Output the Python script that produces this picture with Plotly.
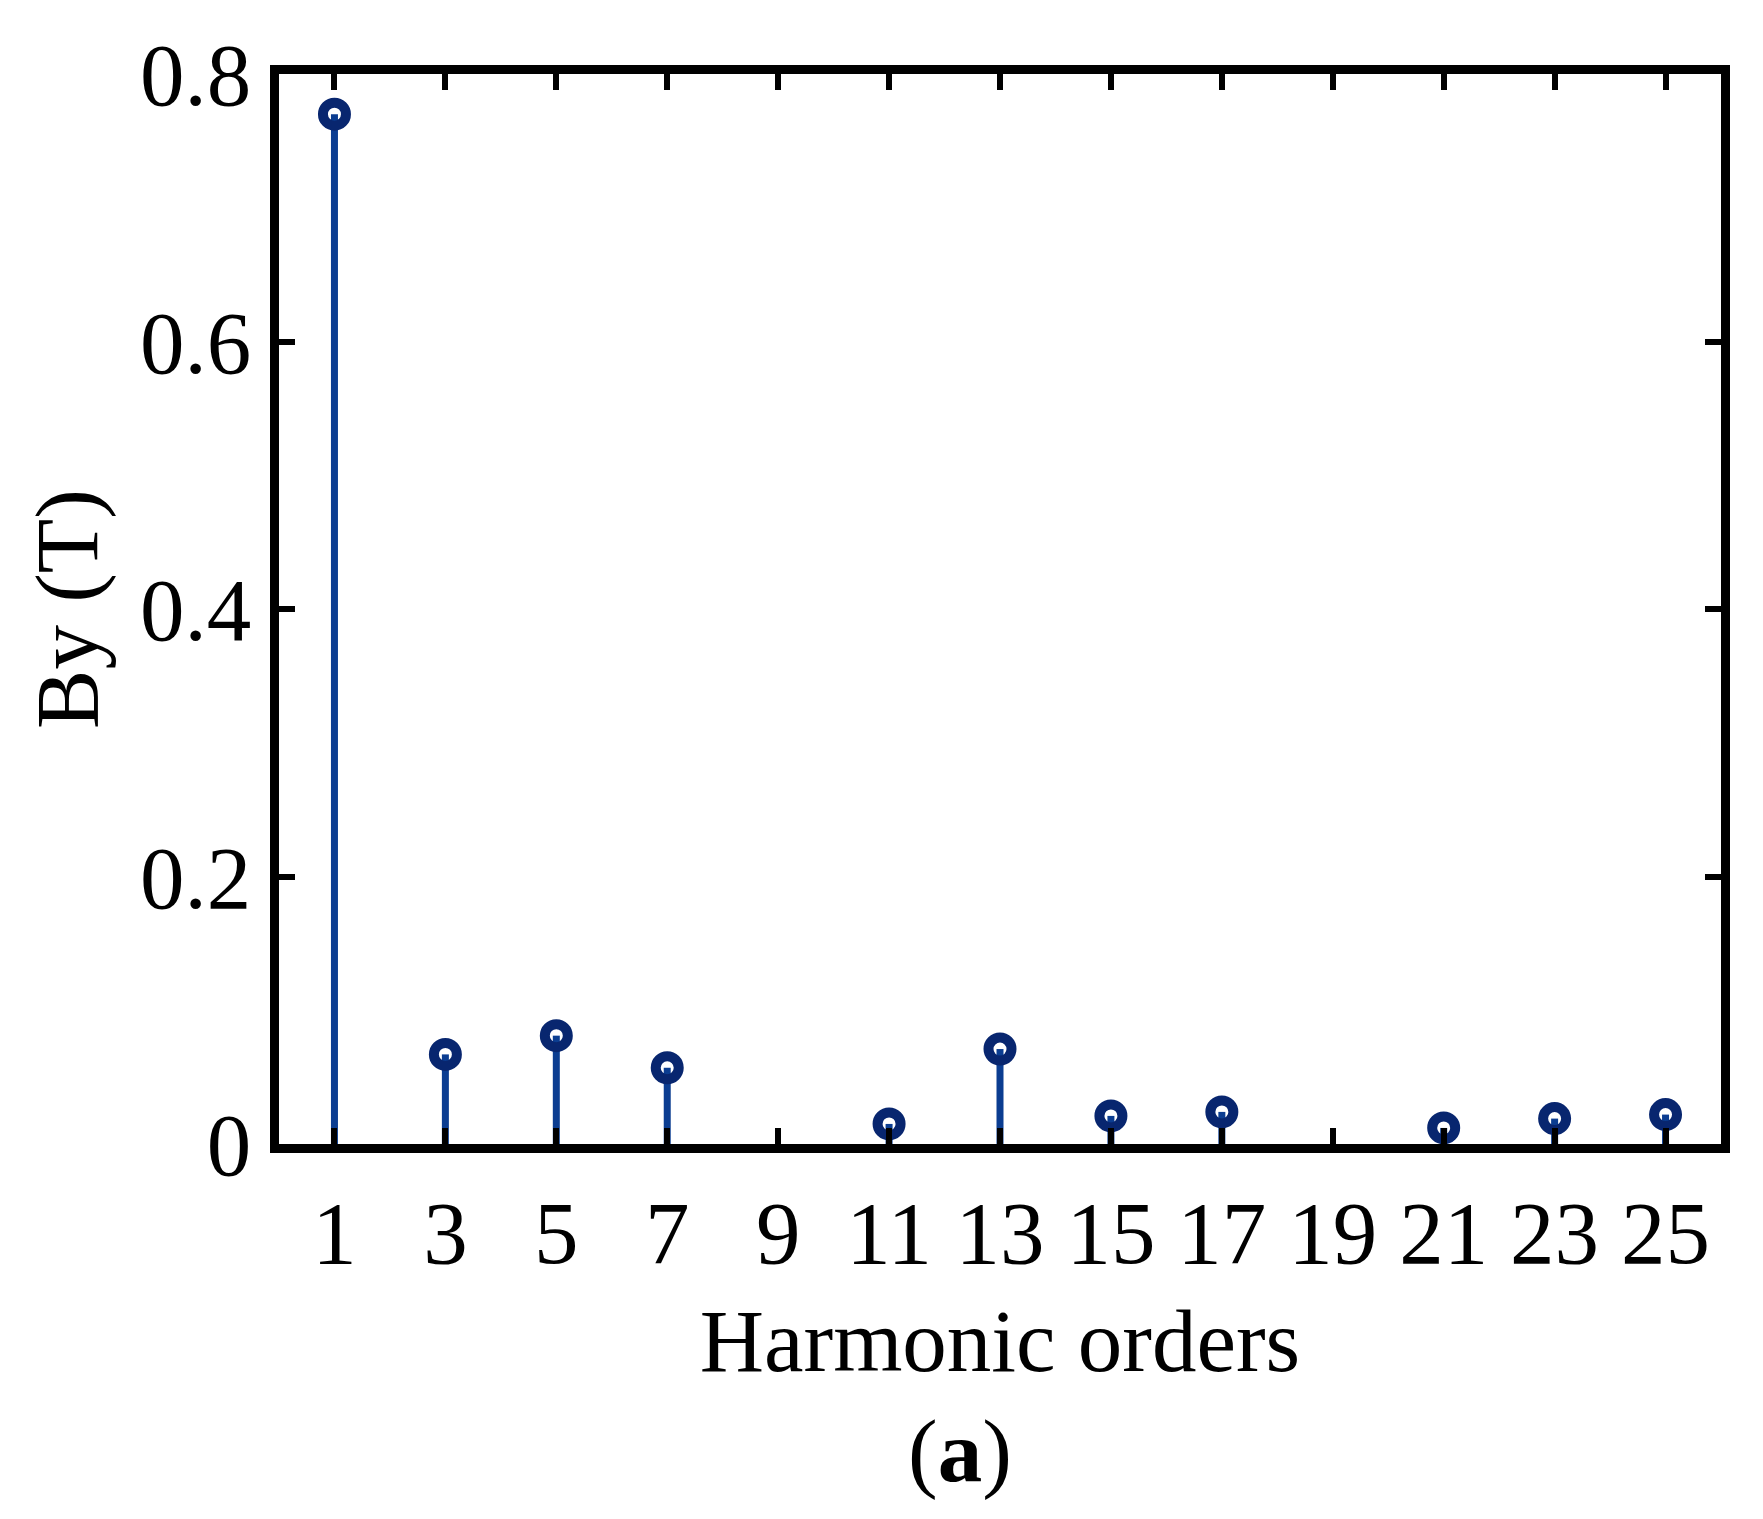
import plotly.graph_objects as go

harmonic_orders = [1, 3, 5, 7, 9, 11, 13, 15, 17, 19, 21, 23, 25]
data_orders = [1, 3, 5, 7, 11, 13, 15, 17, 21, 23, 25]
by_values = [0.770, 0.067, 0.081, 0.057, 0.015, 0.071, 0.021, 0.024, 0.012, 0.019, 0.022]
y_ticks = [0, 0.2, 0.4, 0.6, 0.8]
y_tick_labels = ["0", "0.2", "0.4", "0.6", "0.8"]

stem_x, stem_y = [], []
for x, y in zip(data_orders, by_values):
    stem_x += [x, x, None]
    stem_y += [0, y, None]

FONT = "Liberation Serif, Times New Roman, serif"
FS = 89
L, R, T, B = 271, 50, 66, 383
W, H = 1763, 1519

fig = go.Figure()
fig.add_trace(go.Scatter(x=stem_x, y=stem_y, mode="lines",
                         line=dict(color="#0b3d91", width=7), showlegend=False,
                         hoverinfo="skip"))
fig.add_trace(go.Scatter(x=data_orders, y=by_values, mode="markers",
                         marker=dict(symbol="circle-open", size=23, color="#08266f",
                                     line=dict(width=10, color="#08266f")),
                         showlegend=False, cliponaxis=False))

plot_h = H - T - B
plot_w = W - L - R
fig.update_layout(
    width=W, height=H,
    margin=dict(l=L, r=R, t=T, b=B),
    paper_bgcolor="white", plot_bgcolor="white",
    font=dict(family=FONT, size=FS, color="black"),
    annotations=[dict(text="(<b>a</b>)", x=(952 - L) / plot_w, xref="paper", xanchor="center",
                      y=-(1443 - (H - B)) / plot_h, yref="paper", yanchor="middle",
                      showarrow=False, font=dict(family=FONT, size=FS, color="black"))],
)

fig.update_xaxes(
    range=[0, 26], tickmode="array", tickvals=harmonic_orders,
    ticktext=[str(h) for h in harmonic_orders],
    showline=True, linewidth=9, linecolor="black", mirror="ticks",
    ticks="inside", ticklen=16, tickwidth=6, tickcolor="black",
    showgrid=False, zeroline=False, ticklabelstandoff=3,
    title=dict(text="Harmonic orders", standoff=31, font=dict(size=FS)),
)
fig.update_yaxes(
    range=[0, 0.8], tickmode="array", tickvals=y_ticks, ticktext=y_tick_labels,
    showline=True, linewidth=9, linecolor="black", mirror="ticks",
    ticks="inside", ticklen=16, tickwidth=6, tickcolor="black",
    showgrid=False, zeroline=False, ticklabelstandoff=1,
    title=dict(text="By (T)", standoff=16, font=dict(size=FS)),
)

fig.write_html("out.html")
